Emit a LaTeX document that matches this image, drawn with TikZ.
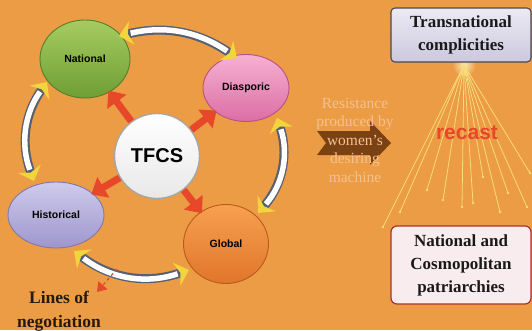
\documentclass[tikz,border=0pt]{standalone}
\usepackage{fontspec}
\setmainfont{Liberation Serif}
\setsansfont{Liberation Sans}
\usetikzlibrary{shapes.geometric,arrows.meta}
\definecolor{bg}{HTML}{EB9C44}
\definecolor{redc}{HTML}{E8482A}
\definecolor{tipc}{HTML}{F2D43C}
\definecolor{tubec}{HTML}{566070}
\definecolor{rayc}{HTML}{F8DC7A}
\definecolor{brownc}{HTML}{7A4212}
\definecolor{restext}{HTML}{F4C290}
\definecolor{natD}{HTML}{557F28}
\tikzset{
  blob/.style={ellipse, inner sep=0pt, line width=0.9pt, font=\sffamily\bfseries\fontsize{10.5}{12}\selectfont, text=black},
  tubeout/.style={line width=9pt, draw=tubec, {Stealth[length=13pt,width=24pt,inset=4pt,color=tipc]}-{Stealth[length=13pt,width=24pt,inset=4pt,color=tipc]}},
  tubein/.style={line width=5.5pt, draw=white, shorten <=12pt, shorten >=12pt},
  redarr/.style={line width=7pt, draw=redc, -{Triangle[length=14pt,width=23pt]}, shorten >=-2pt},
  ray/.style={line width=0.8pt, draw=rayc},
  boxtext/.style={align=center, font=\bfseries\fontsize{17}{23}\selectfont, text=black!90},
}
\begin{document}
\begin{tikzpicture}[x=1pt,y=1pt]
\fill[bg] (0,0) rectangle (532,330);
\useasboundingbox (0,0) rectangle (532,330);

% ellipses
\node[blob, minimum width=90pt, minimum height=78pt, draw=natD, top color={rgb,255:red,166;green,204;blue,96}, bottom color={rgb,255:red,110;green,158;blue,52}] (nat) at (85,271) {National};
\node[blob, minimum width=86pt, minimum height=67pt, draw={rgb,255:red,184;green,80;blue,136}, top color={rgb,255:red,246;green,176;blue,210}, bottom color={rgb,255:red,220;green,110;blue,164}] (dia) at (246,242) {Diasporic};
\node[blob, minimum width=96pt, minimum height=66pt, draw={rgb,255:red,127;green,120;blue,174}, top color={rgb,255:red,207;green,203;blue,236}, bottom color={rgb,255:red,158;green,150;blue,204}] (his) at (56,115) {Historical};
\node[blob, minimum width=85pt, minimum height=79pt, draw={rgb,255:red,184;green,90;blue,30}, top color={rgb,255:red,247;green,160;blue,80}, bottom color={rgb,255:red,224;green,118;blue,42}] (glo) at (226,86) {Global};
\node[circle, minimum size=85pt, inner sep=0pt, draw=gray!70, line width=1.4pt, top color=white, bottom color=gray!18, font=\sffamily\bfseries\fontsize{20}{22}\selectfont] (tfcs) at (157,174) {TFCS};

% ring arcs
\coordinate (t1) at (119,294); \coordinate (t2) at (237,272);
\coordinate (r1) at (277,212); \coordinate (r2) at (258,117);
\coordinate (b1) at (189,60);  \coordinate (b2) at (74,79);
\coordinate (l1) at (34,149);  \coordinate (l2) at (47,248);
\draw[tubeout] (t1) to[bend left=24] (t2);
\draw[tubein]  (t1) to[bend left=24] (t2);
\draw[tubeout] (r1) to[bend left=30] (r2);
\draw[tubein]  (r1) to[bend left=30] (r2);
\draw[tubeout] (b1) to[bend left=28] (b2);
\draw[tubein]  (b1) to[bend left=28] (b2);
\draw[tubeout] (l1) to[bend left=28] (l2);
\draw[tubein]  (l1) to[bend left=28] (l2);

% red arrows
\draw[redarr] (tfcs) -- (nat);
\draw[redarr] (tfcs) -- (dia);
\draw[redarr] (tfcs) -- (his);
\draw[redarr] (tfcs) -- (glo);

% lines of negotiation
\coordinate (lnA) at (117,61);
\coordinate (lnB) at (97,38);
\draw[redc, dashed, line width=1.3pt, -{Triangle[length=9pt,width=12pt]}] (lnA) -- (lnB);
\node[align=center, font=\bfseries\fontsize{17.5}{24}\selectfont, text={rgb,255:red,40;green,25;blue,15}] (lines) at (59,19) {Lines of\\negotiation};

% brown arrow and resistance text
\fill[brownc] (317,199) -- (370,199) -- (370,209) -- (391,187) -- (370,165) -- (370,175) -- (317,175) -- (326,187) -- cycle;
\node[align=center, text=restext, font=\fontsize{15.5}{18.5}\selectfont] (res) at (355,190) {Resistance\\produced by\\women’s\\desiring\\machine};

% rays
\coordinate (apex) at (464,265);
\shade[inner color=rayc!60!white, outer color=bg] (apex) circle (12);
\foreach \x/\y [count=\i] in {383/103, 400/118, 427/140, 443/130, 462/123, 473/127, 483/153, 500/118, 508/137, 527/123, 530/157}{
  \coordinate (ray\i) at (\x,\y);
  \draw[ray] (apex) -- (ray\i);
  \fill[rayc] (ray\i) circle (1.3);
}
\node[text=redc, font=\sffamily\bfseries\fontsize{21}{23}\selectfont] (recast) at (467,197) {recast};

% boxes
\node[boxtext, minimum width=140pt, minimum height=54pt, rounded corners=4pt, draw={rgb,255:red,70;green,72;blue,90}, line width=1.1pt, top color={rgb,255:red,236;green,234;blue,244}, bottom color={rgb,255:red,204;green,200;blue,222}] (tc) at (461,295) {Transnational\\complicities};
\node[boxtext, minimum width=140pt, minimum height=78pt, rounded corners=6pt, draw={rgb,255:red,176;green,48;blue,42}, line width=1.2pt, fill={rgb,255:red,248;green,236;blue,238}] (ncp) at (461,65) {National and\\Cosmopolitan\\patriarchies};
\end{tikzpicture}
\end{document}
